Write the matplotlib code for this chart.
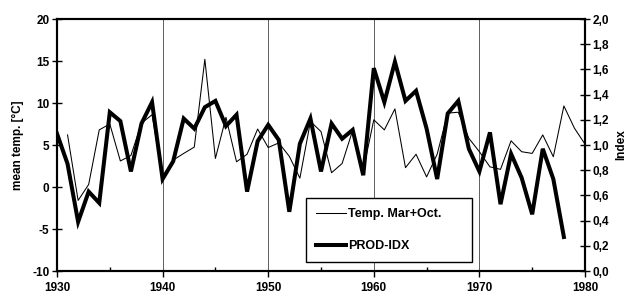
import matplotlib
matplotlib.use("Agg")
import matplotlib.pyplot as plt
from matplotlib.ticker import FixedLocator, FixedFormatter

plt.rcParams['font.family'] = ['Liberation Sans', 'DejaVu Sans']

# ---- data ----
temp_years = list(range(1931, 1981))
temp_values = [6.2, -1.6, 0.3, 6.8, 7.5, 3.1, 3.75, 7.6, 8.6, 1.2,
               3.2, 4.0, 4.75, 15.2, 3.4, 8.3, 3.0, 3.9, 6.9, 4.7,
               5.25, 3.65, 1.05, 7.8, 6.6, 1.7, 2.8, 6.75, 2.0, 8.0,
               6.8, 9.3, 2.3, 3.9, 1.2, 3.9, 8.8, 8.9, 5.8, 4.2,
               2.4, 2.1, 5.5, 4.2, 4.0, 6.2, 3.6, 9.65, 7.0, 5.1]

idx_years = list(range(1930, 1979))
idx_values = [1.09, 0.85, 0.39, 0.63, 0.54, 1.26, 1.19, 0.79, 1.17, 1.34,
              0.73, 0.87, 1.21, 1.13, 1.30, 1.35, 1.15, 1.24, 0.63, 1.03,
              1.16, 1.04, 0.47, 1.01, 1.21, 0.79, 1.17, 1.05, 1.12, 0.76,
              1.61, 1.34, 1.66, 1.35, 1.43, 1.13, 0.73, 1.25, 1.35, 0.97,
              0.79, 1.10, 0.53, 0.93, 0.74, 0.45, 0.97, 0.73, 0.27]

x_ticks = [1930, 1940, 1950, 1960, 1970, 1980]
x_tick_labels = ['1930', '1940', '1950', '1960', '1970', '1980']
x_minor = [1935, 1945, 1955, 1965, 1975]
grid_years = [1940, 1950, 1960, 1970]
left_ticks = [-10, -5, 0, 5, 10, 15, 20]
left_tick_labels = ['-10', '-5', '0', '5', '10', '15', '20']
right_ticks = [0.0, 0.2, 0.4, 0.6, 0.8, 1.0, 1.2, 1.4, 1.6, 1.8, 2.0]
right_tick_labels = ['0,0', '0,2', '0,4', '0,6', '0,8', '1,0', '1,2', '1,4', '1,6', '1,8', '2,0']

temp_label = 'Temp. Mar+Oct.'
idx_label = 'PROD-IDX'
left_ylabel = 'mean temp. [°C]'
right_ylabel = 'Index'

# ---- figure ----
fig = plt.figure(figsize=(6.26, 2.98), dpi=100)
ax = fig.add_axes([57/626, 1-271/298, 528/626, 252/298])
ax2 = ax.twinx()

fs = 8.5
for yr in grid_years:
    ax.axvline(yr, color='#444444', lw=0.6, zorder=0)

l1, = ax.plot(temp_years, temp_values, color='black', lw=0.75, label=temp_label, zorder=2)
l2, = ax2.plot(idx_years, idx_values, color='black', lw=2.9, label=idx_label,
               solid_joinstyle='miter', zorder=3)

ax.set_xlim(1930, 1980)
ax.set_ylim(-10, 20)
ax2.set_ylim(0, 2)

ax.xaxis.set_major_locator(FixedLocator(x_ticks))
ax.xaxis.set_major_formatter(FixedFormatter(x_tick_labels))
ax.xaxis.set_minor_locator(FixedLocator(x_minor))
ax.yaxis.set_major_locator(FixedLocator(left_ticks))
ax.yaxis.set_major_formatter(FixedFormatter(left_tick_labels))
ax2.yaxis.set_major_locator(FixedLocator(right_ticks))
ax2.yaxis.set_major_formatter(FixedFormatter(right_tick_labels))

ax.tick_params(axis='x', which='major', direction='out', length=4, width=1, pad=4,
               labelsize=fs)
ax.tick_params(axis='x', which='minor', direction='in', length=3, width=1)
ax.tick_params(axis='y', direction='inout', length=7, width=1, pad=2, labelsize=fs)
ax2.tick_params(axis='y', direction='inout', length=7, width=1, pad=2, labelsize=fs)
for lab in ax.get_xticklabels() + ax.get_yticklabels() + ax2.get_yticklabels():
    lab.set_fontweight('bold')

for a in (ax, ax2):
    for s in a.spines.values():
        s.set_linewidth(1.5)
        s.set_color('black')

ax.set_ylabel(left_ylabel, fontsize=fs, fontweight='bold', labelpad=6)
ax2.set_ylabel(right_ylabel, fontsize=fs, fontweight='bold', rotation=90, labelpad=4)

leg = ax2.legend([l1, l2], [temp_label, idx_label], loc='center',
                 bbox_to_anchor=(0.472, 0.032, 0.314, 0.262), mode='expand',
                 fontsize=9, frameon=True, fancybox=False, borderpad=0.8,
                 labelspacing=1.6, handlelength=2.4, handletextpad=0.15,
                 borderaxespad=0)
leg.get_frame().set_edgecolor('black')
leg.get_frame().set_linewidth(1.0)
leg.get_frame().set_alpha(1)
for t in leg.get_texts():
    t.set_fontweight('bold')

fig.savefig('out.png', dpi=100)
